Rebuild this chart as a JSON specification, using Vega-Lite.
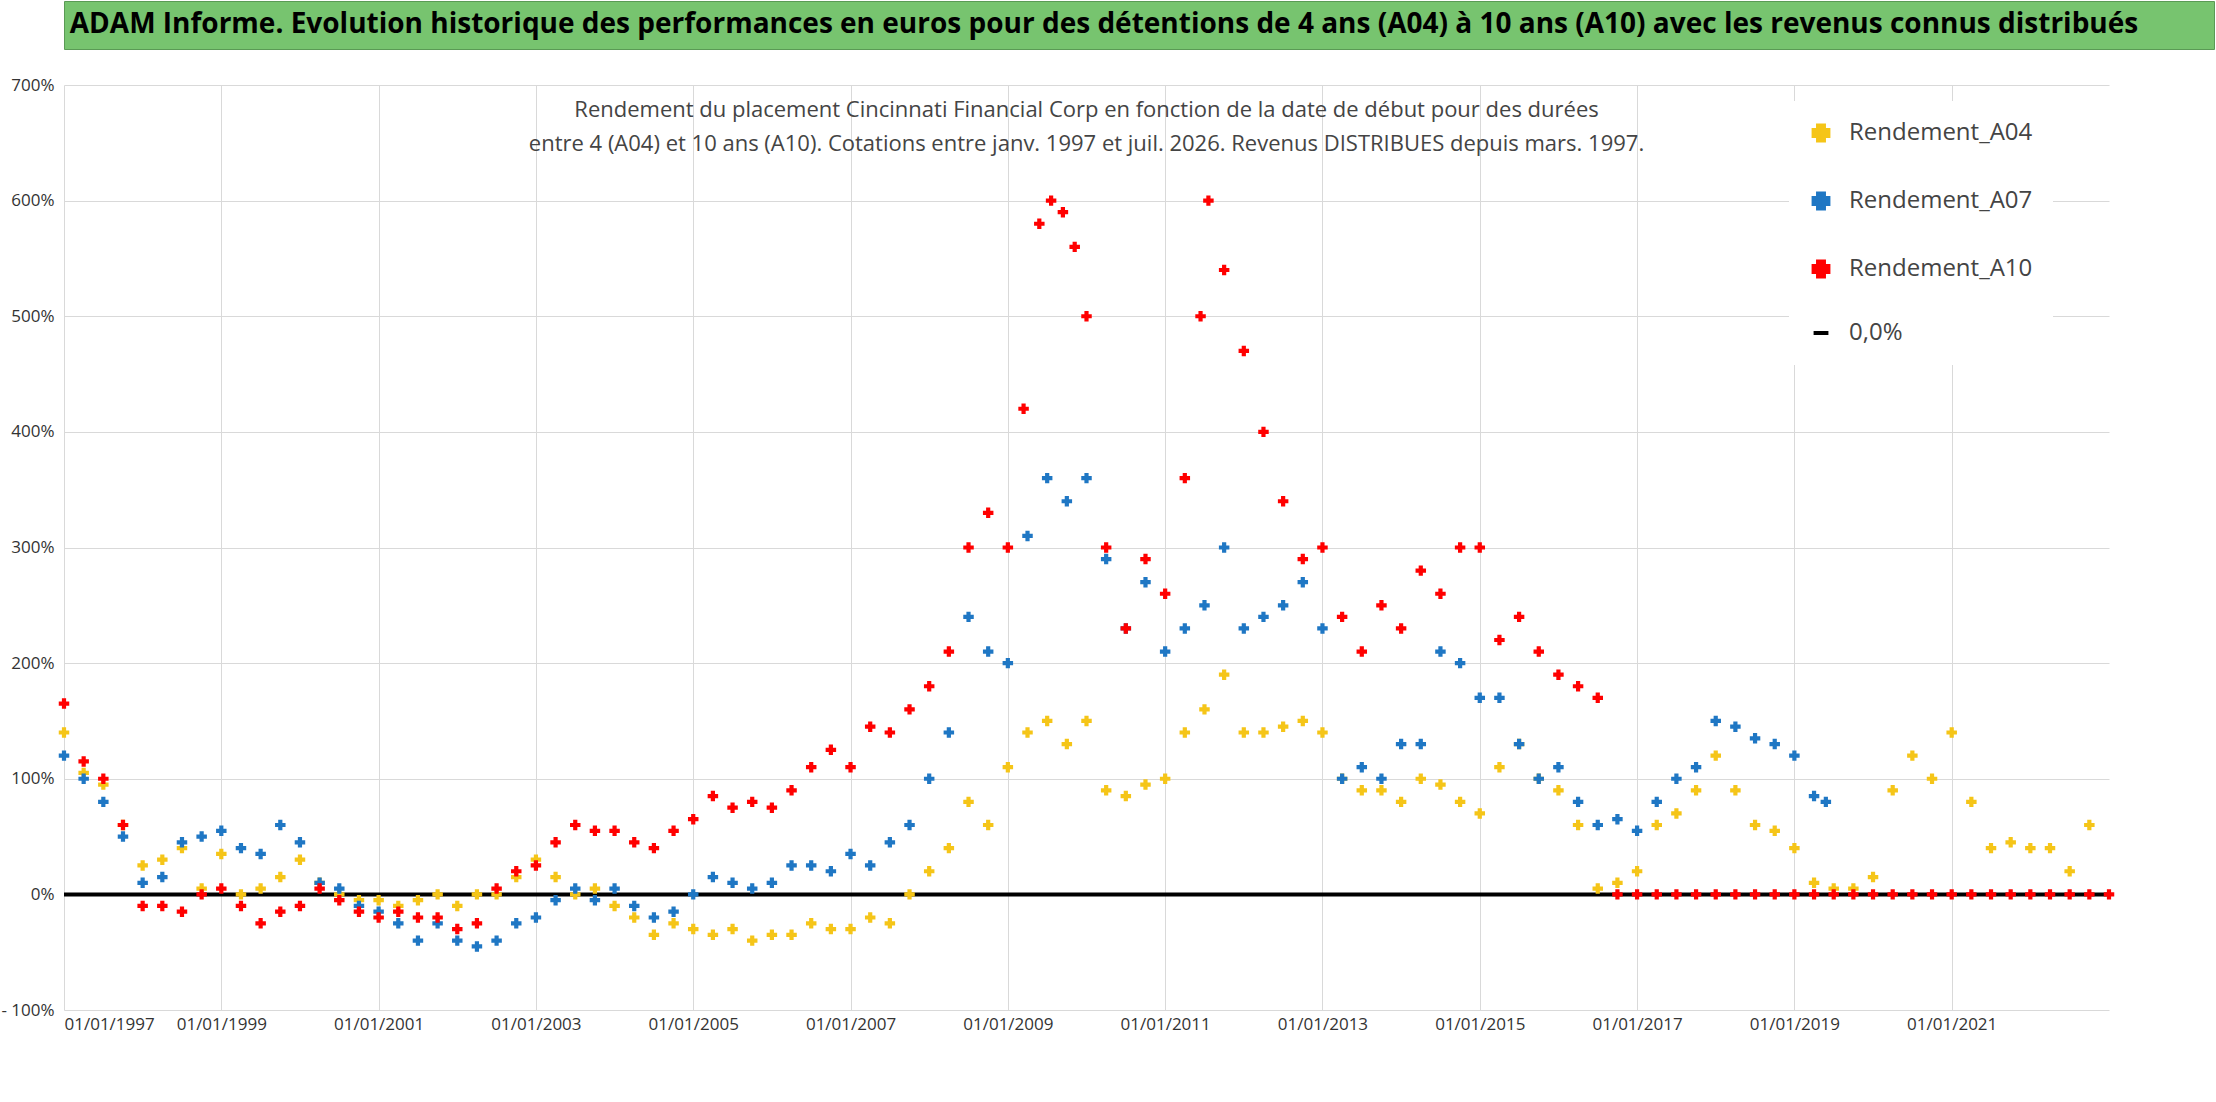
{
  "$schema": "https://vega.github.io/schema/vega-lite/v6.json",
  "padding": 0,
  "spacing": 26,
  "background": "white",
  "config": {"view": {"stroke": null}, "font": "Open Sans"},
  "datasets": {
    "pts": [
      {"s":"Rendement_A04","t":1997.0,"v":140},{"s":"Rendement_A04","t":1997.25,"v":105},{"s":"Rendement_A04","t":1997.5,"v":95},{"s":"Rendement_A04","t":1997.75,"v":60},
      {"s":"Rendement_A04","t":1998.0,"v":25},{"s":"Rendement_A04","t":1998.25,"v":30},{"s":"Rendement_A04","t":1998.5,"v":40},{"s":"Rendement_A04","t":1998.75,"v":5},
      {"s":"Rendement_A04","t":1999.0,"v":35},{"s":"Rendement_A04","t":1999.25,"v":0},{"s":"Rendement_A04","t":1999.5,"v":5},{"s":"Rendement_A04","t":1999.75,"v":15},
      {"s":"Rendement_A04","t":2000.0,"v":30},{"s":"Rendement_A04","t":2000.25,"v":10},{"s":"Rendement_A04","t":2000.5,"v":0},{"s":"Rendement_A04","t":2000.75,"v":-5},
      {"s":"Rendement_A04","t":2001.0,"v":-5},{"s":"Rendement_A04","t":2001.25,"v":-10},{"s":"Rendement_A04","t":2001.5,"v":-5},{"s":"Rendement_A04","t":2001.75,"v":0},
      {"s":"Rendement_A04","t":2002.0,"v":-10},{"s":"Rendement_A04","t":2002.25,"v":0},{"s":"Rendement_A04","t":2002.5,"v":0},{"s":"Rendement_A04","t":2002.75,"v":15},
      {"s":"Rendement_A04","t":2003.0,"v":30},{"s":"Rendement_A04","t":2003.25,"v":15},{"s":"Rendement_A04","t":2003.5,"v":0},{"s":"Rendement_A04","t":2003.75,"v":5},
      {"s":"Rendement_A04","t":2004.0,"v":-10},{"s":"Rendement_A04","t":2004.25,"v":-20},{"s":"Rendement_A04","t":2004.5,"v":-35},{"s":"Rendement_A04","t":2004.75,"v":-25},
      {"s":"Rendement_A04","t":2005.0,"v":-30},{"s":"Rendement_A04","t":2005.25,"v":-35},{"s":"Rendement_A04","t":2005.5,"v":-30},{"s":"Rendement_A04","t":2005.75,"v":-40},
      {"s":"Rendement_A04","t":2006.0,"v":-35},{"s":"Rendement_A04","t":2006.25,"v":-35},{"s":"Rendement_A04","t":2006.5,"v":-25},{"s":"Rendement_A04","t":2006.75,"v":-30},
      {"s":"Rendement_A04","t":2007.0,"v":-30},{"s":"Rendement_A04","t":2007.25,"v":-20},{"s":"Rendement_A04","t":2007.5,"v":-25},{"s":"Rendement_A04","t":2007.75,"v":0},
      {"s":"Rendement_A04","t":2008.0,"v":20},{"s":"Rendement_A04","t":2008.25,"v":40},{"s":"Rendement_A04","t":2008.5,"v":80},{"s":"Rendement_A04","t":2008.75,"v":60},
      {"s":"Rendement_A04","t":2009.0,"v":110},{"s":"Rendement_A04","t":2009.25,"v":140},{"s":"Rendement_A04","t":2009.5,"v":150},{"s":"Rendement_A04","t":2009.75,"v":130},
      {"s":"Rendement_A04","t":2010.0,"v":150},{"s":"Rendement_A04","t":2010.25,"v":90},{"s":"Rendement_A04","t":2010.5,"v":85},{"s":"Rendement_A04","t":2010.75,"v":95},
      {"s":"Rendement_A04","t":2011.0,"v":100},{"s":"Rendement_A04","t":2011.25,"v":140},{"s":"Rendement_A04","t":2011.5,"v":160},{"s":"Rendement_A04","t":2011.75,"v":190},
      {"s":"Rendement_A04","t":2012.0,"v":140},{"s":"Rendement_A04","t":2012.25,"v":140},{"s":"Rendement_A04","t":2012.5,"v":145},{"s":"Rendement_A04","t":2012.75,"v":150},
      {"s":"Rendement_A04","t":2013.0,"v":140},{"s":"Rendement_A04","t":2013.25,"v":100},{"s":"Rendement_A04","t":2013.5,"v":90},{"s":"Rendement_A04","t":2013.75,"v":90},
      {"s":"Rendement_A04","t":2014.0,"v":80},{"s":"Rendement_A04","t":2014.25,"v":100},{"s":"Rendement_A04","t":2014.5,"v":95},{"s":"Rendement_A04","t":2014.75,"v":80},
      {"s":"Rendement_A04","t":2015.0,"v":70},{"s":"Rendement_A04","t":2015.25,"v":110},{"s":"Rendement_A04","t":2015.5,"v":130},{"s":"Rendement_A04","t":2015.75,"v":100},
      {"s":"Rendement_A04","t":2016.0,"v":90},{"s":"Rendement_A04","t":2016.25,"v":60},{"s":"Rendement_A04","t":2016.5,"v":5},{"s":"Rendement_A04","t":2016.75,"v":10},
      {"s":"Rendement_A04","t":2017.0,"v":20},{"s":"Rendement_A04","t":2017.25,"v":60},{"s":"Rendement_A04","t":2017.5,"v":70},{"s":"Rendement_A04","t":2017.75,"v":90},
      {"s":"Rendement_A04","t":2018.0,"v":120},{"s":"Rendement_A04","t":2018.25,"v":90},{"s":"Rendement_A04","t":2018.5,"v":60},{"s":"Rendement_A04","t":2018.75,"v":55},
      {"s":"Rendement_A04","t":2019.0,"v":40},{"s":"Rendement_A04","t":2019.25,"v":10},{"s":"Rendement_A04","t":2019.5,"v":5},{"s":"Rendement_A04","t":2019.75,"v":5},
      {"s":"Rendement_A04","t":2020.0,"v":15},{"s":"Rendement_A04","t":2020.25,"v":90},{"s":"Rendement_A04","t":2020.5,"v":120},{"s":"Rendement_A04","t":2020.75,"v":100},
      {"s":"Rendement_A04","t":2021.0,"v":140},{"s":"Rendement_A04","t":2021.25,"v":80},{"s":"Rendement_A04","t":2021.5,"v":40},{"s":"Rendement_A04","t":2021.75,"v":45},
      {"s":"Rendement_A04","t":2022.0,"v":40},{"s":"Rendement_A04","t":2022.25,"v":40},{"s":"Rendement_A04","t":2022.5,"v":20},{"s":"Rendement_A04","t":2022.75,"v":60},

      {"s":"Rendement_A07","t":1997.0,"v":120},{"s":"Rendement_A07","t":1997.25,"v":100},{"s":"Rendement_A07","t":1997.5,"v":80},{"s":"Rendement_A07","t":1997.75,"v":50},
      {"s":"Rendement_A07","t":1998.0,"v":10},{"s":"Rendement_A07","t":1998.25,"v":15},{"s":"Rendement_A07","t":1998.5,"v":45},{"s":"Rendement_A07","t":1998.75,"v":50},
      {"s":"Rendement_A07","t":1999.0,"v":55},{"s":"Rendement_A07","t":1999.25,"v":40},{"s":"Rendement_A07","t":1999.5,"v":35},{"s":"Rendement_A07","t":1999.75,"v":60},
      {"s":"Rendement_A07","t":2000.0,"v":45},{"s":"Rendement_A07","t":2000.25,"v":10},{"s":"Rendement_A07","t":2000.5,"v":5},{"s":"Rendement_A07","t":2000.75,"v":-10},
      {"s":"Rendement_A07","t":2001.0,"v":-15},{"s":"Rendement_A07","t":2001.25,"v":-25},{"s":"Rendement_A07","t":2001.5,"v":-40},{"s":"Rendement_A07","t":2001.75,"v":-25},
      {"s":"Rendement_A07","t":2002.0,"v":-40},{"s":"Rendement_A07","t":2002.25,"v":-45},{"s":"Rendement_A07","t":2002.5,"v":-40},{"s":"Rendement_A07","t":2002.75,"v":-25},
      {"s":"Rendement_A07","t":2003.0,"v":-20},{"s":"Rendement_A07","t":2003.25,"v":-5},{"s":"Rendement_A07","t":2003.5,"v":5},{"s":"Rendement_A07","t":2003.75,"v":-5},
      {"s":"Rendement_A07","t":2004.0,"v":5},{"s":"Rendement_A07","t":2004.25,"v":-10},{"s":"Rendement_A07","t":2004.5,"v":-20},{"s":"Rendement_A07","t":2004.75,"v":-15},
      {"s":"Rendement_A07","t":2005.0,"v":0},{"s":"Rendement_A07","t":2005.25,"v":15},{"s":"Rendement_A07","t":2005.5,"v":10},{"s":"Rendement_A07","t":2005.75,"v":5},
      {"s":"Rendement_A07","t":2006.0,"v":10},{"s":"Rendement_A07","t":2006.25,"v":25},{"s":"Rendement_A07","t":2006.5,"v":25},{"s":"Rendement_A07","t":2006.75,"v":20},
      {"s":"Rendement_A07","t":2007.0,"v":35},{"s":"Rendement_A07","t":2007.25,"v":25},{"s":"Rendement_A07","t":2007.5,"v":45},{"s":"Rendement_A07","t":2007.75,"v":60},
      {"s":"Rendement_A07","t":2008.0,"v":100},{"s":"Rendement_A07","t":2008.25,"v":140},{"s":"Rendement_A07","t":2008.5,"v":240},{"s":"Rendement_A07","t":2008.75,"v":210},
      {"s":"Rendement_A07","t":2009.0,"v":200},{"s":"Rendement_A07","t":2009.25,"v":310},{"s":"Rendement_A07","t":2009.5,"v":360},{"s":"Rendement_A07","t":2009.75,"v":340},
      {"s":"Rendement_A07","t":2010.0,"v":360},{"s":"Rendement_A07","t":2010.25,"v":290},{"s":"Rendement_A07","t":2010.5,"v":230},{"s":"Rendement_A07","t":2010.75,"v":270},
      {"s":"Rendement_A07","t":2011.0,"v":210},{"s":"Rendement_A07","t":2011.25,"v":230},{"s":"Rendement_A07","t":2011.5,"v":250},{"s":"Rendement_A07","t":2011.75,"v":300},
      {"s":"Rendement_A07","t":2012.0,"v":230},{"s":"Rendement_A07","t":2012.25,"v":240},{"s":"Rendement_A07","t":2012.5,"v":250},{"s":"Rendement_A07","t":2012.75,"v":270},
      {"s":"Rendement_A07","t":2013.0,"v":230},{"s":"Rendement_A07","t":2013.25,"v":100},{"s":"Rendement_A07","t":2013.5,"v":110},{"s":"Rendement_A07","t":2013.75,"v":100},
      {"s":"Rendement_A07","t":2014.0,"v":130},{"s":"Rendement_A07","t":2014.25,"v":130},{"s":"Rendement_A07","t":2014.5,"v":210},{"s":"Rendement_A07","t":2014.75,"v":200},
      {"s":"Rendement_A07","t":2015.0,"v":170},{"s":"Rendement_A07","t":2015.25,"v":170},{"s":"Rendement_A07","t":2015.5,"v":130},{"s":"Rendement_A07","t":2015.75,"v":100},
      {"s":"Rendement_A07","t":2016.0,"v":110},{"s":"Rendement_A07","t":2016.25,"v":80},{"s":"Rendement_A07","t":2016.5,"v":60},{"s":"Rendement_A07","t":2016.75,"v":65},
      {"s":"Rendement_A07","t":2017.0,"v":55},{"s":"Rendement_A07","t":2017.25,"v":80},{"s":"Rendement_A07","t":2017.5,"v":100},{"s":"Rendement_A07","t":2017.75,"v":110},
      {"s":"Rendement_A07","t":2018.0,"v":150},{"s":"Rendement_A07","t":2018.25,"v":145},{"s":"Rendement_A07","t":2018.5,"v":135},{"s":"Rendement_A07","t":2018.75,"v":130},
      {"s":"Rendement_A07","t":2019.0,"v":120},{"s":"Rendement_A07","t":2019.25,"v":85},{"s":"Rendement_A07","t":2019.4,"v":80},

      {"s":"Rendement_A10","t":1997.0,"v":165},{"s":"Rendement_A10","t":1997.25,"v":115},{"s":"Rendement_A10","t":1997.5,"v":100},{"s":"Rendement_A10","t":1997.75,"v":60},
      {"s":"Rendement_A10","t":1998.0,"v":-10},{"s":"Rendement_A10","t":1998.25,"v":-10},{"s":"Rendement_A10","t":1998.5,"v":-15},{"s":"Rendement_A10","t":1998.75,"v":0},
      {"s":"Rendement_A10","t":1999.0,"v":5},{"s":"Rendement_A10","t":1999.25,"v":-10},{"s":"Rendement_A10","t":1999.5,"v":-25},{"s":"Rendement_A10","t":1999.75,"v":-15},
      {"s":"Rendement_A10","t":2000.0,"v":-10},{"s":"Rendement_A10","t":2000.25,"v":5},{"s":"Rendement_A10","t":2000.5,"v":-5},{"s":"Rendement_A10","t":2000.75,"v":-15},
      {"s":"Rendement_A10","t":2001.0,"v":-20},{"s":"Rendement_A10","t":2001.25,"v":-15},{"s":"Rendement_A10","t":2001.5,"v":-20},{"s":"Rendement_A10","t":2001.75,"v":-20},
      {"s":"Rendement_A10","t":2002.0,"v":-30},{"s":"Rendement_A10","t":2002.25,"v":-25},{"s":"Rendement_A10","t":2002.5,"v":5},{"s":"Rendement_A10","t":2002.75,"v":20},
      {"s":"Rendement_A10","t":2003.0,"v":25},{"s":"Rendement_A10","t":2003.25,"v":45},{"s":"Rendement_A10","t":2003.5,"v":60},{"s":"Rendement_A10","t":2003.75,"v":55},
      {"s":"Rendement_A10","t":2004.0,"v":55},{"s":"Rendement_A10","t":2004.25,"v":45},{"s":"Rendement_A10","t":2004.5,"v":40},{"s":"Rendement_A10","t":2004.75,"v":55},
      {"s":"Rendement_A10","t":2005.0,"v":65},{"s":"Rendement_A10","t":2005.25,"v":85},{"s":"Rendement_A10","t":2005.5,"v":75},{"s":"Rendement_A10","t":2005.75,"v":80},
      {"s":"Rendement_A10","t":2006.0,"v":75},{"s":"Rendement_A10","t":2006.25,"v":90},{"s":"Rendement_A10","t":2006.5,"v":110},{"s":"Rendement_A10","t":2006.75,"v":125},
      {"s":"Rendement_A10","t":2007.0,"v":110},{"s":"Rendement_A10","t":2007.25,"v":145},{"s":"Rendement_A10","t":2007.5,"v":140},{"s":"Rendement_A10","t":2007.75,"v":160},
      {"s":"Rendement_A10","t":2008.0,"v":180},{"s":"Rendement_A10","t":2008.25,"v":210},{"s":"Rendement_A10","t":2008.5,"v":300},{"s":"Rendement_A10","t":2008.75,"v":330},
      {"s":"Rendement_A10","t":2009.0,"v":300},{"s":"Rendement_A10","t":2009.2,"v":420},{"s":"Rendement_A10","t":2009.4,"v":580},{"s":"Rendement_A10","t":2009.55,"v":600},
      {"s":"Rendement_A10","t":2009.7,"v":590},{"s":"Rendement_A10","t":2009.85,"v":560},{"s":"Rendement_A10","t":2010.0,"v":500},{"s":"Rendement_A10","t":2010.25,"v":300},
      {"s":"Rendement_A10","t":2010.5,"v":230},{"s":"Rendement_A10","t":2010.75,"v":290},{"s":"Rendement_A10","t":2011.0,"v":260},{"s":"Rendement_A10","t":2011.25,"v":360},
      {"s":"Rendement_A10","t":2011.45,"v":500},{"s":"Rendement_A10","t":2011.55,"v":600},{"s":"Rendement_A10","t":2011.75,"v":540},{"s":"Rendement_A10","t":2012.0,"v":470},
      {"s":"Rendement_A10","t":2012.25,"v":400},{"s":"Rendement_A10","t":2012.5,"v":340},{"s":"Rendement_A10","t":2012.75,"v":290},{"s":"Rendement_A10","t":2013.0,"v":300},
      {"s":"Rendement_A10","t":2013.25,"v":240},{"s":"Rendement_A10","t":2013.5,"v":210},{"s":"Rendement_A10","t":2013.75,"v":250},{"s":"Rendement_A10","t":2014.0,"v":230},
      {"s":"Rendement_A10","t":2014.25,"v":280},{"s":"Rendement_A10","t":2014.5,"v":260},{"s":"Rendement_A10","t":2014.75,"v":300},{"s":"Rendement_A10","t":2015.0,"v":300},
      {"s":"Rendement_A10","t":2015.25,"v":220},{"s":"Rendement_A10","t":2015.5,"v":240},{"s":"Rendement_A10","t":2015.75,"v":210},{"s":"Rendement_A10","t":2016.0,"v":190},
      {"s":"Rendement_A10","t":2016.25,"v":180},{"s":"Rendement_A10","t":2016.5,"v":170},
      {"s":"Rendement_A10","t":2016.75,"v":0},{"s":"Rendement_A10","t":2017.0,"v":0},{"s":"Rendement_A10","t":2017.25,"v":0},{"s":"Rendement_A10","t":2017.5,"v":0},
      {"s":"Rendement_A10","t":2017.75,"v":0},{"s":"Rendement_A10","t":2018.0,"v":0},{"s":"Rendement_A10","t":2018.25,"v":0},{"s":"Rendement_A10","t":2018.5,"v":0},
      {"s":"Rendement_A10","t":2018.75,"v":0},{"s":"Rendement_A10","t":2019.0,"v":0},{"s":"Rendement_A10","t":2019.25,"v":0},{"s":"Rendement_A10","t":2019.5,"v":0},
      {"s":"Rendement_A10","t":2019.75,"v":0},{"s":"Rendement_A10","t":2020.0,"v":0},{"s":"Rendement_A10","t":2020.25,"v":0},{"s":"Rendement_A10","t":2020.5,"v":0},
      {"s":"Rendement_A10","t":2020.75,"v":0},{"s":"Rendement_A10","t":2021.0,"v":0},{"s":"Rendement_A10","t":2021.25,"v":0},{"s":"Rendement_A10","t":2021.5,"v":0},
      {"s":"Rendement_A10","t":2021.75,"v":0},{"s":"Rendement_A10","t":2022.0,"v":0},{"s":"Rendement_A10","t":2022.25,"v":0},{"s":"Rendement_A10","t":2022.5,"v":0},
      {"s":"Rendement_A10","t":2022.75,"v":0},{"s":"Rendement_A10","t":2023.0,"v":0}
    ],
    "zero": [{"s": "0,0%", "t": 1997, "t1": 2023, "v": 0}]
  },
  "vconcat": [
    {
      "width": 2150,
      "height": 48,
      "view": {"fill": "#77c46f", "stroke": "#5a9a55"},
      "data": {"values": [{"t": "ADAM Informe. Evolution historique des performances en euros pour des détentions de 4 ans (A04) à 10 ans (A10) avec les revenus connus distribués"}]},
      "mark": {"type": "text", "fontSize": 28, "fontWeight": "bold", "font": "Open Sans", "color": "black", "dx": -35},
      "encoding": {"text": {"field": "t"}}
    },
    {
      "width": 2045,
      "height": 925,
      "title": {
        "text": ["Rendement du placement Cincinnati Financial Corp en fonction de la date de début pour des durées", "entre 4 (A04) et 10 ans (A10). Cotations entre janv. 1997 et juil. 2026. Revenus DISTRIBUES depuis mars. 1997."],
        "fontSize": 22, "fontWeight": "normal", "color": "#444", "font": "Open Sans", "offset": -80, "lineHeight": 34
      },
      "encoding": {
        "x": {
          "field": "t", "type": "quantitative",
          "scale": {"domain": [1997, 2023], "nice": false, "zero": false},
          "axis": {"title": null, "values": [1997,1999,2001,2003,2005,2007,2009,2011,2013,2015,2017,2019,2021], "labelExpr": "'01/01/' + datum.value", "labelFontSize": 17, "labelColor": "#333", "grid": true, "gridColor": "#d9d9d9", "domain": false, "ticks": false, "labelPadding": 6}
        },
        "y": {
          "field": "v", "type": "quantitative",
          "scale": {"domain": [-100, 700], "nice": false},
          "axis": {"title": null, "values": [-100,0,100,200,300,400,500,600,700], "labelExpr": "datum.value < 0 ? '- ' + abs(datum.value) + '%' : datum.value + '%'", "labelFontSize": 17, "labelColor": "#333", "gridColor": "#d9d9d9", "domain": false, "ticks": false, "labelPadding": 10}
        },
        "color": {
          "field": "s", "type": "nominal",
          "scale": {"domain": ["Rendement_A04", "Rendement_A07", "Rendement_A10", "0,0%"], "range": ["#f5c518", "#1f77c4", "#ff0000", "#000000"]},
          "legend": {"title": null, "orient": "none", "legendX": 1725, "legendY": 100, "labelFontSize": 24, "labelColor": "#444", "labelLimit": 300, "symbolSize": 220, "symbolStrokeWidth": 4, "rowPadding": 36, "fillColor": "white", "padding": 20, "labelOffset": 16}
        }
      },
      "layer": [
        {
          "data": {"name": "zero"},
          "mark": {"type": "rule", "strokeWidth": 4},
          "encoding": {"x2": {"field": "t1"}}
        },
        {
          "data": {"name": "pts"},
          "mark": {"type": "point", "filled": true, "size": 110, "opacity": 1},
          "encoding": {
            "shape": {
              "field": "s", "type": "nominal",
              "scale": {"domain": ["Rendement_A04", "Rendement_A07", "Rendement_A10", "0,0%"], "range": ["cross", "cross", "cross", "stroke"]},
              "legend": null
            }
          }
        }
      ]
    }
  ]
}
